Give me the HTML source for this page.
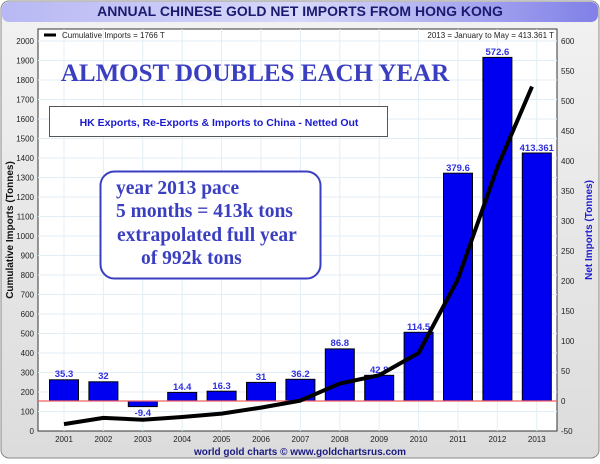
<!DOCTYPE html>
<html><head><style>
body{margin:0;width:600px;height:459px;overflow:hidden;background:#fff}
</style></head><body>
<svg width="600" height="459" xmlns="http://www.w3.org/2000/svg" font-family="Liberation Sans, sans-serif">
<defs>
<linearGradient id="bg" x1="0" y1="0" x2="0" y2="1"><stop offset="0" stop-color="#f2f2f2"/><stop offset="1" stop-color="#dcdcdc"/></linearGradient>
<linearGradient id="tb" x1="0" y1="0" x2="1" y2="0"><stop offset="0" stop-color="#b8b8f4"/><stop offset="0.5" stop-color="#d8d8fa"/><stop offset="1" stop-color="#8080e8"/></linearGradient>
</defs>
<rect x="1" y="1" width="598" height="457" rx="8" fill="url(#bg)" stroke="#888"/>
<rect x="2" y="2" width="596" height="20" rx="7" fill="url(#tb)"/>
<text x="300" y="16" text-anchor="middle" font-size="14" font-weight="bold" fill="#1a1a70">ANNUAL CHINESE GOLD NET IMPORTS FROM HONG KONG</text>
<rect x="38" y="29" width="519" height="402" fill="#fff" stroke="#333"/>
<g stroke="#e2eef6" stroke-width="1">
<line x1="38" x2="557" y1="411.5" y2="411.5"/><line x1="38" x2="557" y1="392" y2="392"/><line x1="38" x2="557" y1="372.5" y2="372.5"/><line x1="38" x2="557" y1="353" y2="353"/><line x1="38" x2="557" y1="333.5" y2="333.5"/><line x1="38" x2="557" y1="314" y2="314"/><line x1="38" x2="557" y1="294.5" y2="294.5"/><line x1="38" x2="557" y1="275" y2="275"/><line x1="38" x2="557" y1="255.5" y2="255.5"/><line x1="38" x2="557" y1="236" y2="236"/><line x1="38" x2="557" y1="216.5" y2="216.5"/><line x1="38" x2="557" y1="197" y2="197"/><line x1="38" x2="557" y1="177.5" y2="177.5"/><line x1="38" x2="557" y1="158" y2="158"/><line x1="38" x2="557" y1="138.5" y2="138.5"/><line x1="38" x2="557" y1="119" y2="119"/><line x1="38" x2="557" y1="99.5" y2="99.5"/><line x1="38" x2="557" y1="80" y2="80"/><line x1="38" x2="557" y1="60.5" y2="60.5"/><line x1="38" x2="557" y1="41" y2="41"/>
<line y1="29" y2="431" x1="64" x2="64"/><line y1="29" y2="431" x1="103.4" x2="103.4"/><line y1="29" y2="431" x1="142.8" x2="142.8"/><line y1="29" y2="431" x1="182.2" x2="182.2"/><line y1="29" y2="431" x1="221.6" x2="221.6"/><line y1="29" y2="431" x1="261" x2="261"/><line y1="29" y2="431" x1="300.4" x2="300.4"/><line y1="29" y2="431" x1="339.8" x2="339.8"/><line y1="29" y2="431" x1="379.2" x2="379.2"/><line y1="29" y2="431" x1="418.6" x2="418.6"/><line y1="29" y2="431" x1="458" x2="458"/><line y1="29" y2="431" x1="497.4" x2="497.4"/><line y1="29" y2="431" x1="536.8" x2="536.8"/>
</g>
<g fill="#0000f0" stroke="#000" stroke-width="1">
<rect x="49.5" y="379.8" width="29" height="21.2"/>
<rect x="88.9" y="381.8" width="29" height="19.2"/>
<rect x="128.3" y="401" width="29" height="5.6"/>
<rect x="167.7" y="392.4" width="29" height="8.6"/>
<rect x="207.1" y="391.2" width="29" height="9.8"/>
<rect x="246.5" y="382.4" width="29" height="18.6"/>
<rect x="285.9" y="379.3" width="29" height="21.7"/>
<rect x="325.3" y="348.9" width="29" height="52.1"/>
<rect x="364.7" y="375.3" width="29" height="25.7"/>
<rect x="404.1" y="332.3" width="29" height="68.7"/>
<rect x="443.5" y="173.2" width="29" height="227.8"/>
<rect x="482.9" y="57.4" width="29" height="343.6"/>
<rect x="522.3" y="153" width="29" height="248"/>
</g>
<line x1="38" x2="557" y1="401" y2="401" stroke="#f06060" stroke-width="1.2"/>
<g font-size="9.5" font-weight="bold" fill="#3030e0" text-anchor="middle">
<text x="64" y="377">35.3</text><text x="103.4" y="379">32</text><text x="142.8" y="416">-9.4</text><text x="182.2" y="390">14.4</text><text x="221.6" y="389">16.3</text><text x="261" y="380">31</text><text x="300.4" y="377">36.2</text><text x="339.8" y="346">86.8</text><text x="379.2" y="373">42.8</text><text x="418.6" y="330">114.5</text><text x="458" y="171">379.6</text><text x="497.4" y="55">572.6</text><text x="536.8" y="151">413.361</text>
</g>
<polyline fill="none" stroke="#000" stroke-width="4" stroke-linejoin="round" points="64,424.1 103.4,417.9 142.8,419.7 182.2,417 221.6,413.6 261,407.6 300.4,400.6 339.8,383.6 379.2,375.2 418.6,353 458,278.9 497.4,167.2 532,86.6"/>
<g font-size="8" fill="#222" text-anchor="end">
<text x="34" y="434">0</text><text x="34" y="414.5">100</text><text x="34" y="395">200</text><text x="34" y="375.5">300</text><text x="34" y="356">400</text><text x="34" y="336.5">500</text><text x="34" y="317">600</text><text x="34" y="297.5">700</text><text x="34" y="278">800</text><text x="34" y="258.5">900</text><text x="34" y="239">1000</text><text x="34" y="219.5">1100</text><text x="34" y="200">1200</text><text x="34" y="180.5">1300</text><text x="34" y="161">1400</text><text x="34" y="141.5">1500</text><text x="34" y="122">1600</text><text x="34" y="102.5">1700</text><text x="34" y="83">1800</text><text x="34" y="63.5">1900</text><text x="34" y="44">2000</text>
</g>
<g font-size="8" fill="#222">
<text x="561" y="434">-50</text><text x="561" y="404">0</text><text x="561" y="374">50</text><text x="561" y="344">100</text><text x="561" y="314">150</text><text x="561" y="284">200</text><text x="561" y="254">250</text><text x="561" y="224">300</text><text x="561" y="194">350</text><text x="561" y="164">400</text><text x="561" y="134">450</text><text x="561" y="104">500</text><text x="561" y="74">550</text><text x="561" y="44">600</text>
</g>
<g font-size="8" fill="#222" text-anchor="middle">
<text x="64" y="442">2001</text><text x="103.4" y="442">2002</text><text x="142.8" y="442">2003</text><text x="182.2" y="442">2004</text><text x="221.6" y="442">2005</text><text x="261" y="442">2006</text><text x="300.4" y="442">2007</text><text x="339.8" y="442">2008</text><text x="379.2" y="442">2009</text><text x="418.6" y="442">2010</text><text x="458" y="442">2011</text><text x="497.4" y="442">2012</text><text x="536.8" y="442">2013</text>
</g>
<text transform="translate(13,230) rotate(-90)" text-anchor="middle" font-size="10" font-weight="bold" fill="#111">Cumulative Imports (Tonnes)</text>
<text transform="translate(592,230) rotate(-90)" text-anchor="middle" font-size="10" font-weight="bold" fill="#2020d0">Net Imports (Tonnes)</text>
<text x="300" y="455" text-anchor="middle" font-size="10" font-weight="bold" fill="#1a1a80">world gold charts © www.goldchartsrus.com</text>
<line x1="44" x2="56" y1="35" y2="35" stroke="#000" stroke-width="3"/>
<text x="62" y="38" font-size="8" fill="#222">Cumulative Imports = 1766 T</text>
<text x="554" y="38" font-size="8" fill="#222" text-anchor="end">2013 = January to May = 413.361 T</text>
<text x="255" y="81" text-anchor="middle" font-family="Liberation Serif, serif" font-size="25" font-weight="bold" fill="#3a3ec0">ALMOST DOUBLES EACH YEAR</text>
<rect x="49.5" y="106.5" width="338" height="30" fill="#fff" stroke="#555"/>
<text x="219" y="126" text-anchor="middle" font-size="10.5" font-weight="bold" fill="#1a1ad0">HK Exports, Re-Exports &amp; Imports to China - Netted Out</text>
<rect x="100.5" y="171.5" width="220" height="107" rx="14" fill="#fff" stroke="#3a3ec0" stroke-width="2"/>
<g font-family="Liberation Serif, serif" font-size="19.5" font-weight="bold" fill="#3a3ec0">
<text x="116" y="194">year 2013 pace</text>
<text x="116" y="217">5 months = 413k tons</text>
<text x="117" y="241">extrapolated full year</text>
<text x="141" y="264">of 992k tons</text>
</g>
</svg>
</body></html>
